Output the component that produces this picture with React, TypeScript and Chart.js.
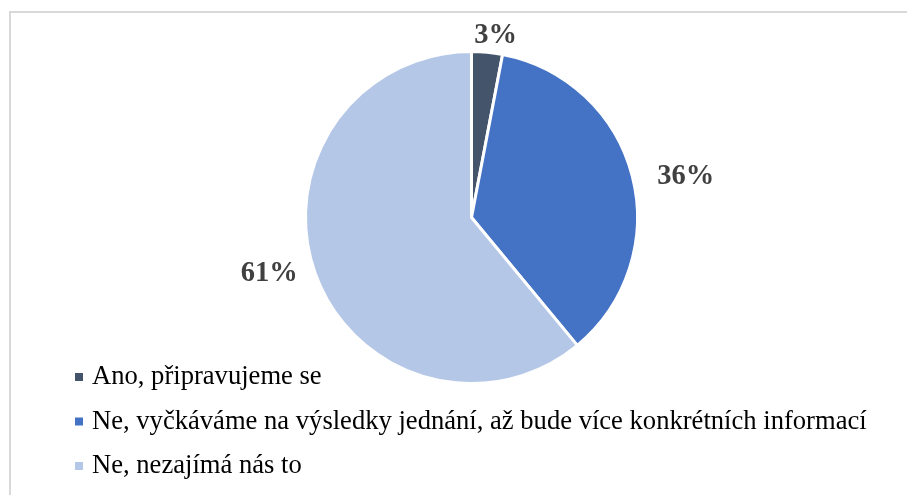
import React, { useEffect, useRef } from "react";
import { Chart, registerables } from "chart.js";

Chart.register(...registerables);

const categories = [
  "Ano, připravujeme se",
  "Ne, vyčkáváme na výsledky jednání, až bude více konkrétních informací",
  "Ne, nezajímá nás to",
];
const shares = [3, 36, 61];
const colors = ["#44546a", "#4472c4", "#b4c7e7"];
const valueLabels = ["3%", "36%", "61%"];

// label placement tweaks (radial offset beyond pie edge, angular nudge in degrees)
const labelOffset = [17, 52, 44];
const labelNudge = [2.2, 3.6, 4.3];

const labelsPlugin = {
  id: "sliceLabels",
  afterDatasetsDraw(chart: any) {
    const { ctx } = chart;
    const meta = chart.getDatasetMeta(0);
    ctx.save();
    ctx.font = "bold 28.5px 'Liberation Serif', 'Times New Roman', serif";
    ctx.fillStyle = "#404040";
    ctx.textAlign = "center";
    ctx.textBaseline = "middle";
    meta.data.forEach((arc: any, i: number) => {
      const p = arc.getProps(["x", "y", "startAngle", "endAngle", "outerRadius"], true);
      const a = (p.startAngle + p.endAngle) / 2 + (labelNudge[i] * Math.PI) / 180;
      const r = p.outerRadius + labelOffset[i];
      ctx.fillText(valueLabels[i], p.x + r * Math.cos(a), p.y + r * Math.sin(a));
    });
    ctx.restore();
  },
};

const legendPlugin = {
  id: "listLegend",
  afterDraw(chart: any) {
    const { ctx } = chart;
    const labels = chart.data.labels as string[];
    const bg = chart.data.datasets[0].backgroundColor as string[];
    ctx.save();
    ctx.font = "26.6px 'Liberation Serif', 'Times New Roman', serif";
    ctx.textAlign = "left";
    ctx.textBaseline = "alphabetic";
    labels.forEach((t, i) => {
      const y = 384 + i * 44.5;
      ctx.fillStyle = bg[i];
      ctx.fillRect(75, y - 11, 8, 8);
      ctx.fillStyle = "#000000";
      ctx.fillText(t, 92, y);
    });
    ctx.restore();
  },
};

export default function App() {
  const ref = useRef<HTMLCanvasElement | null>(null);
  useEffect(() => {
    if (!ref.current) return;
    const chart = new Chart(ref.current, {
      type: "pie",
      data: {
        labels: categories,
        datasets: [
          {
            data: shares,
            backgroundColor: colors,
            borderColor: "#ffffff",
            borderWidth: 3,
          },
        ],
      },
      options: {
        animation: false,
        responsive: false,
        maintainAspectRatio: false,
        layout: { padding: { left: 304, right: 268, top: 50, bottom: 110 } },
        plugins: {
          legend: { display: false },
          tooltip: { enabled: false },
        },
      },
      plugins: [labelsPlugin, legendPlugin],
    });
    return () => chart.destroy();
  }, []);
  return (
    <div style={{ position: "fixed", inset: 0, overflow: "hidden", background: "#ffffff" }}>
      <div
        style={{
          position: "absolute",
          left: 9,
          top: 11,
          width: 960,
          height: 560,
          border: "2px solid #d9d9d9",
          boxSizing: "border-box",
        }}
      />
      <canvas
        ref={ref}
        width={907}
        height={495}
        style={{ position: "absolute", left: 0, top: 0, width: 907, height: 495 }}
      />
    </div>
  );
}
